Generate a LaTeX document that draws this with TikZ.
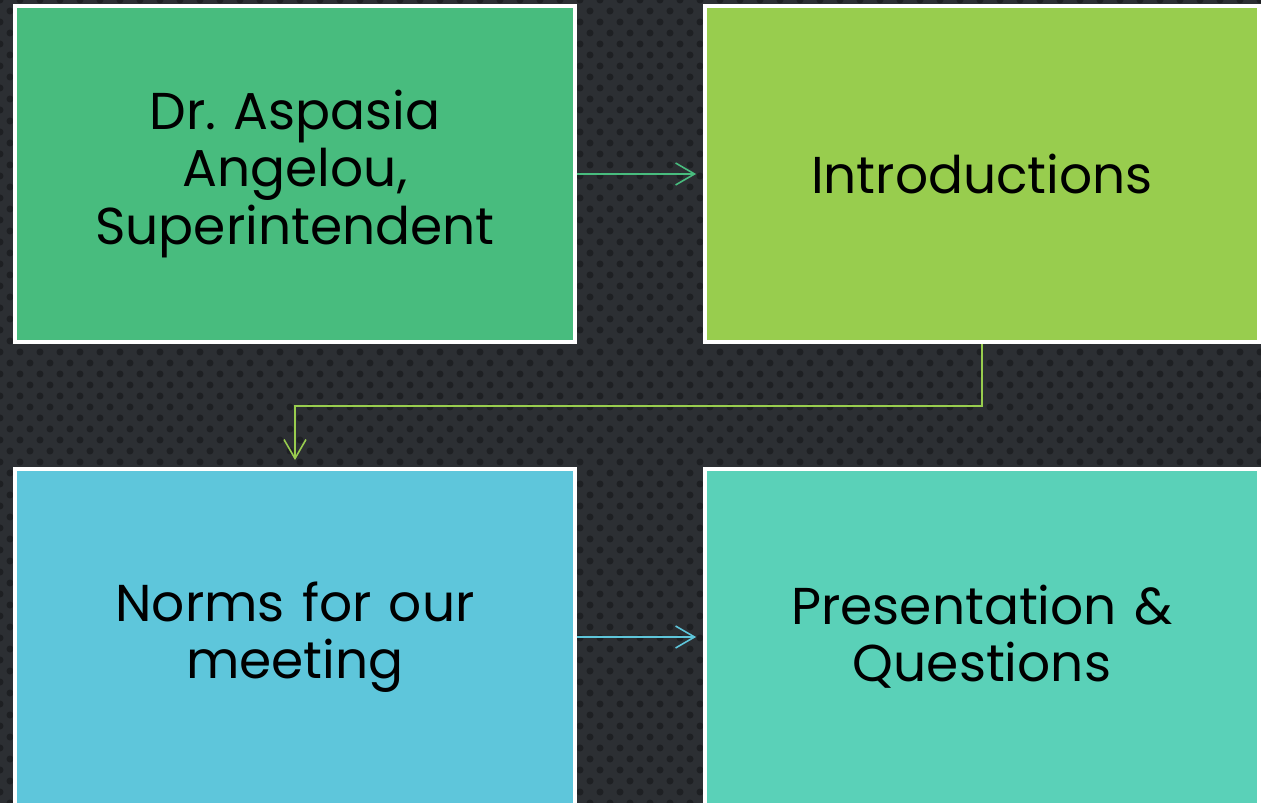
\documentclass[tikz,border=0pt]{standalone}
\usepackage{fontspec}
\setmainfont{Poppins}
\usepackage{tikz}
\usetikzlibrary{positioning, calc, arrows.meta}
\definecolor{bgDark}{RGB}{44, 47, 51}
\definecolor{bgDot}{RGB}{30, 32, 35}
\definecolor{boxGreen}{RGB}{72, 188, 126}
\definecolor{boxLime}{RGB}{152, 205, 78}
\definecolor{boxCyan}{RGB}{94, 198, 219}
\definecolor{boxTeal}{RGB}{90, 209, 184}
\tikzset{
    panel/.style={
        rectangle,
        draw=white,
        line width=2.2pt,
        minimum width=11.2cm,
        minimum height=6.72cm,
        text width=10.6cm,
        align=center,
        font=\fontsize{29.5}{32.5}\selectfont,
        text=black,
        inner sep=0pt
    },
    flow/.style={
        -{Straight Barb[length=3.8mm, width=4.4mm, line width=0.9pt]},
        line width=0.9pt,
        shorten >=0.14cm
    }
}
\frenchspacing

\begin{document}
\begin{tikzpicture}[x=0.02cm, y=-0.02cm]
    % page and background
    \useasboundingbox (0,0) rectangle (1261,803);
    \clip (0,0) rectangle (1261,803);
    \fill[bgDark] (0,0) rectangle (1261,803);
    \foreach \r in {0,...,73} {
        \pgfmathsetmacro{\sh}{mod(\r,2)*10}
        \foreach \c in {0,...,63}
            \fill[bgDot] (\c*20+\sh, \r*11) circle (0.07cm);
    }

    % the four steps
    \node[panel, fill=boxGreen] (speaker) at (295,174) {Dr. Aspasia\\Angelou,\\Superintendent};
    \node[panel, fill=boxLime, minimum width=11.08cm] (intro) at (982,174) {Introductions};
    \node[panel, fill=boxCyan] (norms) at (295,637) {Norms for our\\meeting};
    \node[panel, fill=boxTeal, minimum width=11.08cm] (present) at (982,637) {Presentation \&\\Questions};

    % connectors
    \draw[flow, boxGreen] (speaker.east) -- (intro.west);
    \draw[flow, boxLime] (intro.south) -- ++(0,62) -| (norms.north);
    \draw[flow, boxCyan] (norms.east) -- (present.west);

\end{tikzpicture}
\end{document}
